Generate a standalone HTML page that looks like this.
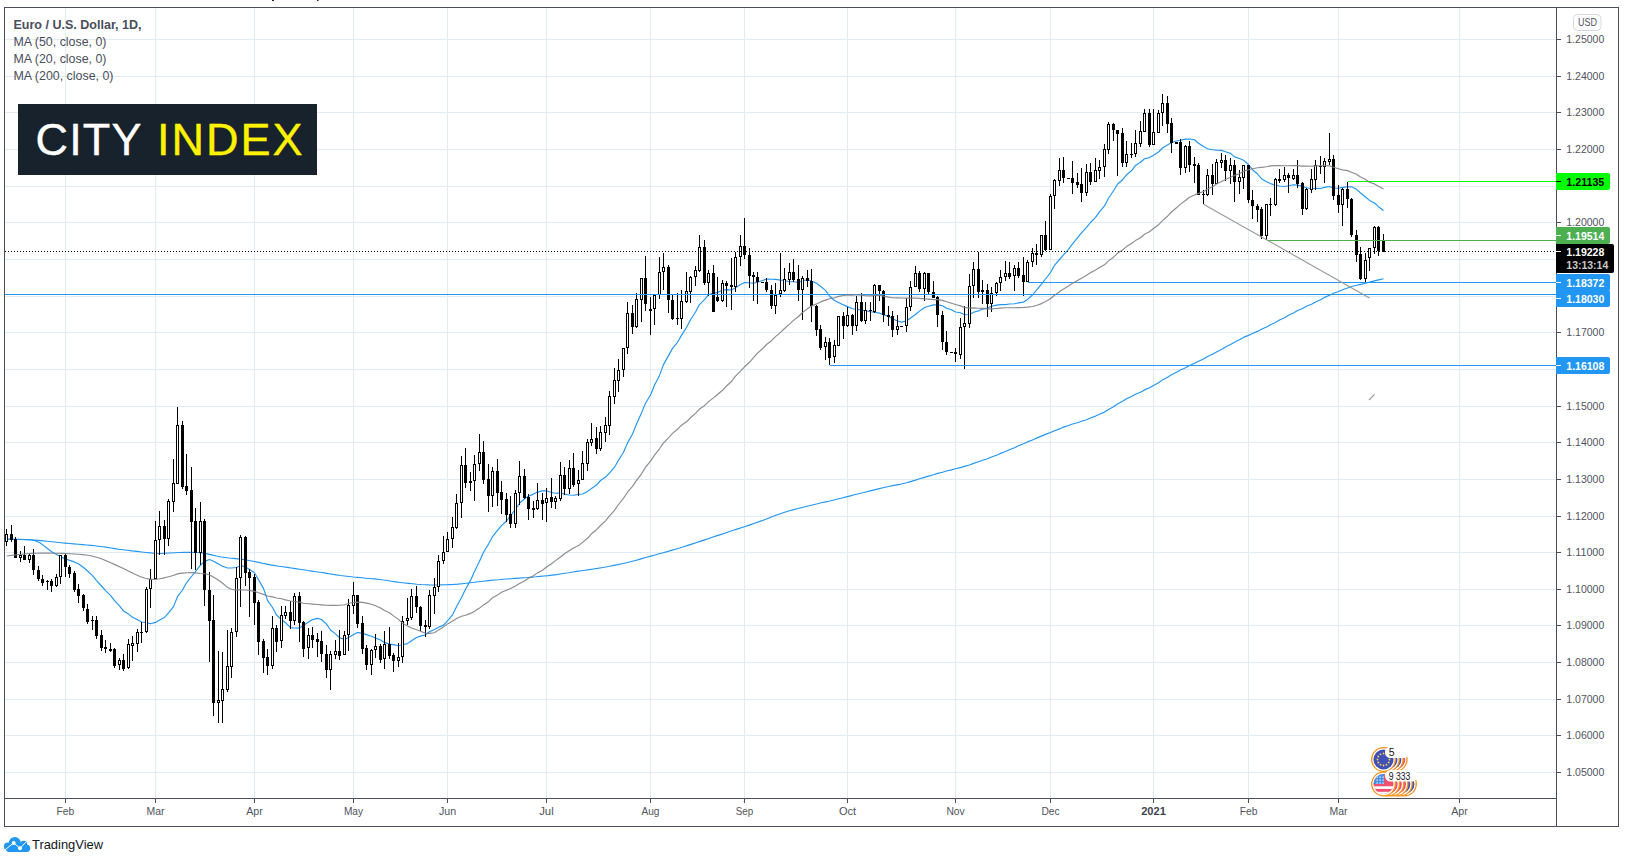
<!DOCTYPE html>
<html lang="en"><head><meta charset="utf-8"><title>Euro / U.S. Dollar, 1D</title>
<style>html,body{margin:0;padding:0;background:#fff}body{width:1625px;height:863px;overflow:hidden}svg{display:block}text{font-family:"Liberation Sans", Arial, sans-serif}</style></head><body>
<svg width="1625" height="863" viewBox="0 0 1625 863">
<rect width="1625" height="863" fill="#fff"/>
<g shape-rendering="crispEdges" fill="#e1ecf2">
<rect x="5" y="39" width="1551" height="1"/>
<rect x="5" y="76" width="1551" height="1"/>
<rect x="5" y="112" width="1551" height="1"/>
<rect x="5" y="149" width="1551" height="1"/>
<rect x="5" y="186" width="1551" height="1"/>
<rect x="5" y="222" width="1551" height="1"/>
<rect x="5" y="259" width="1551" height="1"/>
<rect x="5" y="296" width="1551" height="1"/>
<rect x="5" y="332" width="1551" height="1"/>
<rect x="5" y="369" width="1551" height="1"/>
<rect x="5" y="406" width="1551" height="1"/>
<rect x="5" y="442" width="1551" height="1"/>
<rect x="5" y="479" width="1551" height="1"/>
<rect x="5" y="516" width="1551" height="1"/>
<rect x="5" y="552" width="1551" height="1"/>
<rect x="5" y="589" width="1551" height="1"/>
<rect x="5" y="625" width="1551" height="1"/>
<rect x="5" y="662" width="1551" height="1"/>
<rect x="5" y="699" width="1551" height="1"/>
<rect x="5" y="735" width="1551" height="1"/>
<rect x="5" y="772" width="1551" height="1"/>
<rect x="65" y="8" width="1" height="790"/>
<rect x="155" y="8" width="1" height="790"/>
<rect x="254" y="8" width="1" height="790"/>
<rect x="353" y="8" width="1" height="790"/>
<rect x="447" y="8" width="1" height="790"/>
<rect x="546" y="8" width="1" height="790"/>
<rect x="650" y="8" width="1" height="790"/>
<rect x="744" y="8" width="1" height="790"/>
<rect x="847" y="8" width="1" height="790"/>
<rect x="955" y="8" width="1" height="790"/>
<rect x="1050" y="8" width="1" height="790"/>
<rect x="1153" y="8" width="1" height="790"/>
<rect x="1248" y="8" width="1" height="790"/>
<rect x="1338" y="8" width="1" height="790"/>
<rect x="1459" y="8" width="1" height="790"/>
</g>
<polyline fill="none" stroke="#2196f3" stroke-width="1.15" stroke-opacity="1" stroke-linejoin="round" points="7.6,539.1 10.6,539.2 14.7,539.2 19.6,539.3 25.1,539.5 30.8,539.8 34.6,540.1 38.6,540.4 42.9,540.9 47.4,541.3 51.9,541.8 56.4,542.2 60.9,542.7 65.2,543.1 69.5,543.5 73.8,543.9 78.2,544.3 82.5,544.6 86.7,545.0 90.8,545.4 94.8,545.8 98.5,546.2 103.0,546.8 107.1,547.4 110.9,548.0 114.7,548.6 118.7,549.2 123.0,549.8 127.2,550.3 131.9,550.9 136.8,551.4 141.6,552.0 146.2,552.5 150.4,552.9 153.8,553.2 160.1,553.5 165.0,553.2 169.4,553.0 174.5,552.7 179.8,552.5 184.6,552.3 190.5,552.3 195.8,552.5 200.0,552.7 204.3,553.1 207.5,553.9 211.6,554.9 216.4,556.0 221.5,557.0 225.2,557.5 229.2,558.0 233.4,558.4 237.7,558.9 242.0,559.4 246.2,560.0 250.3,560.7 254.4,561.5 258.5,562.4 262.6,563.3 266.7,564.1 270.8,564.9 274.9,565.6 279.0,566.2 283.1,566.8 287.2,567.4 291.3,568.0 295.4,568.6 299.5,569.2 303.6,569.8 307.7,570.5 311.8,571.1 315.9,571.7 320.0,572.3 324.1,572.9 328.2,573.6 332.3,574.2 336.4,574.9 340.5,575.5 344.6,576.0 348.9,576.5 353.3,577.0 357.8,577.4 362.0,577.8 365.9,578.2 369.2,578.5 374.6,578.9 380.0,579.5 383.3,580.0 387.2,580.5 391.4,581.2 395.9,581.9 400.3,582.5 404.6,583.0 408.7,583.4 412.8,583.8 416.9,584.2 421.0,584.5 425.1,584.7 429.2,584.9 433.3,585.0 437.4,585.0 441.5,584.9 445.6,584.8 449.7,584.6 453.8,584.4 457.9,584.1 462.0,583.7 466.2,583.2 470.3,582.7 474.4,582.2 478.5,581.7 482.6,581.3 486.7,580.9 490.8,580.4 494.8,580.0 498.9,579.7 503.0,579.3 507.1,579.0 511.2,578.7 515.3,578.4 519.5,578.1 523.6,577.8 527.7,577.5 531.8,577.1 535.9,576.8 540.0,576.4 544.1,576.0 548.2,575.6 552.3,575.1 556.4,574.6 560.5,574.0 564.7,573.3 568.8,572.7 572.9,572.0 577.0,571.4 581.1,570.8 585.2,570.2 589.2,569.6 593.3,569.0 597.4,568.4 601.5,567.7 605.6,567.0 609.7,566.2 613.8,565.4 618.0,564.6 622.1,563.7 626.2,562.8 630.3,561.8 634.4,560.7 638.5,559.6 642.6,558.4 646.7,557.2 650.8,556.1 654.9,555.0 659.0,553.8 663.1,552.7 667.2,551.6 671.3,550.4 675.4,549.2 679.5,548.0 683.6,546.7 687.7,545.4 691.8,544.1 695.9,542.7 700.0,541.4 704.1,540.1 708.2,538.7 712.3,537.3 716.4,535.9 720.5,534.6 724.6,533.2 728.9,531.8 733.3,530.3 737.8,528.9 742.0,527.5 745.9,526.2 749.2,525.1 754.6,523.3 760.0,521.4 763.3,520.2 767.2,518.7 771.4,517.0 775.9,515.3 780.3,513.7 784.6,512.3 788.7,511.0 792.8,509.9 796.9,508.8 801.0,507.7 805.1,506.7 809.2,505.7 813.3,504.7 817.4,503.8 821.5,502.8 825.6,501.9 829.7,501.0 833.8,500.0 837.9,499.0 842.0,498.0 846.2,496.9 850.3,495.9 854.4,494.8 858.5,493.8 862.7,492.8 866.9,491.7 871.1,490.6 875.3,489.6 879.3,488.6 883.0,487.7 888.5,486.5 893.8,485.4 898.3,484.6 901.5,484.0 906.5,482.8 910.5,481.6 915.5,480.1 919.5,478.8 924.5,477.4 928.5,476.1 933.5,474.7 937.5,473.4 942.5,472.2 946.5,471.0 951.5,469.9 955.5,468.8 960.5,467.6 964.5,466.4 969.5,465.0 973.5,463.4 978.5,461.8 982.5,460.3 987.5,458.7 991.5,457.0 996.5,455.3 1000.5,453.4 1005.5,451.5 1009.5,449.7 1014.5,447.7 1018.5,445.8 1023.5,443.8 1027.5,441.9 1032.5,440.0 1036.5,438.1 1041.5,436.1 1045.5,434.4 1050.5,432.5 1054.5,430.7 1059.5,428.9 1063.5,427.1 1068.5,425.5 1072.5,424.0 1077.5,422.8 1081.5,421.3 1086.5,419.7 1090.5,418.0 1095.5,416.1 1099.5,414.3 1104.5,412.1 1108.5,409.6 1113.5,406.8 1117.5,404.0 1122.5,401.3 1126.5,398.8 1131.5,396.4 1135.5,394.2 1140.5,392.2 1144.5,389.9 1149.5,387.7 1153.5,385.4 1158.5,382.7 1162.5,379.9 1167.5,377.2 1171.5,374.8 1176.5,372.3 1180.5,370.1 1185.5,367.7 1189.5,365.5 1194.5,363.3 1198.5,361.2 1203.5,358.9 1207.5,356.6 1212.5,354.3 1216.5,351.9 1221.5,349.5 1225.5,347.0 1230.5,344.5 1234.5,342.2 1239.5,339.8 1243.5,337.4 1248.5,335.4 1252.5,333.5 1257.5,331.4 1261.5,329.3 1266.5,327.0 1270.5,324.8 1275.5,322.5 1279.5,320.1 1284.5,317.7 1288.5,315.3 1293.5,312.9 1297.5,310.5 1302.5,308.5 1306.5,306.3 1311.5,304.3 1315.5,302.0 1320.5,299.8 1324.5,297.4 1329.5,295.2 1333.5,293.3 1338.5,291.5 1342.5,289.7 1347.5,288.0 1351.5,286.5 1356.5,285.3 1360.5,284.4 1365.5,283.2 1369.5,282.1 1374.5,280.9 1378.5,279.9 1383.5,278.7"/>
<polyline fill="none" stroke="#2196f3" stroke-width="1.15" stroke-opacity="1" stroke-linejoin="round" points="8.6,539.1 13.6,539.3 20.0,539.5 25.6,539.6 30.8,540.0 35.0,540.7 39.4,542.5 43.2,545.1 47.4,548.5 51.7,551.7 56.1,554.3 60.6,556.7 65.2,558.8 69.7,560.4 74.3,561.9 78.8,564.0 83.9,567.8 88.9,572.3 92.5,575.6 96.5,580.6 101.5,586.0 105.5,590.6 110.5,595.4 114.5,600.7 119.5,605.9 123.5,610.9 128.5,614.1 132.5,617.2 137.5,619.7 141.5,622.0 146.5,622.6 150.5,623.8 155.5,622.4 159.5,620.0 164.5,617.5 168.5,612.8 173.5,606.6 177.5,596.7 182.5,590.0 186.5,582.8 191.5,576.5 195.5,571.7 200.5,565.2 204.5,561.4 209.5,559.5 213.5,561.2 218.5,564.0 222.5,566.3 227.5,568.0 231.5,568.0 236.5,567.5 240.5,565.4 245.5,567.0 249.5,569.5 254.5,572.7 258.5,579.7 263.5,588.4 267.5,600.4 272.5,607.5 276.5,615.0 281.5,619.7 285.5,622.7 290.5,627.6 294.5,628.0 299.5,628.1 303.5,625.4 308.5,622.1 312.5,619.6 317.5,618.4 321.5,619.5 326.5,624.1 330.5,630.0 335.5,633.9 339.5,637.8 344.5,639.4 348.5,637.6 353.5,634.5 357.5,632.4 362.5,633.4 366.5,634.6 371.5,636.3 375.5,638.1 380.5,640.0 384.5,642.4 389.5,644.1 393.5,644.6 398.5,645.7 402.5,644.8 407.5,643.6 411.5,640.7 416.5,637.5 420.5,636.1 425.5,634.8 429.5,631.8 434.5,629.4 438.5,627.2 443.5,625.1 447.5,620.9 452.5,614.8 456.5,606.7 461.5,597.5 465.5,589.3 470.5,580.4 474.5,571.4 479.5,561.2 483.5,552.2 488.5,544.1 492.5,536.7 497.5,530.4 501.5,525.6 506.5,521.0 510.5,515.9 515.5,509.2 519.5,503.3 524.5,498.8 528.5,496.2 533.5,494.1 537.5,492.1 542.5,490.9 546.5,490.7 551.5,492.5 555.5,493.3 560.5,492.9 564.5,494.1 569.5,495.0 573.5,495.2 578.5,494.4 582.5,494.0 587.5,491.5 591.5,488.4 596.5,485.1 600.5,480.5 605.5,477.1 609.5,473.1 614.5,467.2 618.5,460.3 623.5,452.2 627.5,442.9 632.5,434.0 636.5,424.1 641.5,412.9 645.5,403.2 650.5,395.0 654.5,385.2 659.5,375.4 663.5,364.6 668.5,355.6 672.5,348.4 677.5,342.3 681.5,335.4 686.5,327.5 690.5,319.8 695.5,312.0 699.5,304.6 704.5,299.7 708.5,294.8 713.5,293.1 717.5,292.4 722.5,290.3 726.5,289.6 731.5,290.0 735.5,287.7 740.5,284.5 744.5,282.5 749.5,282.7 753.5,283.2 757.5,282.3 762.5,280.5 766.5,279.1 771.5,279.3 775.5,279.4 780.5,280.1 784.5,280.5 789.5,281.8 793.5,281.7 798.5,282.5 802.5,280.8 807.5,279.8 811.5,281.0 816.5,283.2 820.5,286.2 825.5,290.4 829.5,296.0 834.5,300.5 838.5,302.5 843.5,304.9 847.5,306.6 852.5,308.7 856.5,309.3 861.5,310.1 865.5,310.8 870.5,311.9 874.5,312.2 879.5,313.1 883.5,314.9 888.5,316.2 892.5,318.8 897.5,321.0 901.5,322.1 906.5,321.0 910.5,318.0 915.5,314.5 919.5,311.1 924.5,307.5 928.5,306.3 933.5,304.9 937.5,304.9 942.5,305.7 946.5,308.2 951.5,309.8 955.5,312.0 960.5,312.8 964.5,314.7 969.5,314.5 973.5,312.2 978.5,310.9 982.5,309.1 987.5,308.0 991.5,306.3 996.5,305.1 1000.5,304.6 1005.5,304.6 1009.5,304.0 1014.5,303.7 1018.5,302.9 1023.5,302.1 1027.5,299.4 1032.5,295.0 1036.5,290.1 1041.5,284.2 1045.5,279.0 1050.5,272.5 1054.5,265.3 1059.5,259.5 1063.5,254.9 1068.5,249.3 1072.5,243.8 1077.5,237.8 1081.5,232.8 1086.5,227.3 1090.5,222.5 1095.5,217.3 1099.5,211.8 1104.5,205.9 1108.5,198.3 1113.5,190.8 1117.5,184.3 1122.5,179.8 1126.5,174.8 1131.5,170.8 1135.5,165.4 1140.5,162.2 1144.5,158.8 1149.5,157.6 1153.5,155.2 1158.5,152.0 1162.5,148.0 1167.5,144.9 1171.5,142.5 1176.5,141.0 1180.5,140.3 1185.5,139.1 1189.5,139.0 1194.5,139.8 1198.5,143.3 1203.5,146.6 1207.5,148.7 1212.5,149.7 1216.5,150.1 1221.5,150.4 1225.5,151.8 1230.5,153.4 1234.5,156.9 1239.5,158.5 1243.5,160.2 1248.5,164.5 1252.5,169.7 1257.5,174.0 1261.5,178.7 1266.5,181.7 1270.5,183.6 1275.5,185.2 1279.5,186.0 1284.5,186.5 1288.5,185.7 1293.5,184.7 1297.5,185.1 1302.5,186.4 1306.5,187.7 1311.5,188.7 1315.5,188.3 1320.5,188.5 1324.5,187.4 1329.5,186.5 1333.5,188.1 1338.5,188.3 1342.5,187.4 1347.5,186.9 1351.5,186.8 1356.5,189.3 1360.5,193.0 1365.5,197.0 1369.5,200.4 1374.5,203.0 1378.5,206.7 1383.5,210.5"/>
<g shape-rendering="crispEdges" fill="#000">
<rect x="6" y="529" width="1" height="17"/>
<rect x="5" y="534" width="3" height="8"/>
<rect x="6" y="535" width="1" height="6" fill="#fff"/>
<rect x="11" y="525" width="1" height="17"/>
<rect x="10" y="534" width="3" height="6"/>
<rect x="15" y="537" width="1" height="21"/>
<rect x="14" y="539" width="3" height="19"/>
<rect x="20" y="551" width="1" height="11"/>
<rect x="19" y="555" width="3" height="3"/>
<rect x="20" y="556" width="1" height="1" fill="#fff"/>
<rect x="24" y="546" width="1" height="14"/>
<rect x="23" y="555" width="3" height="5"/>
<rect x="29" y="554" width="1" height="9"/>
<rect x="28" y="555" width="3" height="5"/>
<rect x="29" y="556" width="1" height="3" fill="#fff"/>
<rect x="33" y="549" width="1" height="26"/>
<rect x="32" y="555" width="3" height="15"/>
<rect x="38" y="566" width="1" height="15"/>
<rect x="37" y="570" width="3" height="9"/>
<rect x="42" y="575" width="1" height="11"/>
<rect x="41" y="579" width="3" height="4"/>
<rect x="47" y="580" width="1" height="10"/>
<rect x="46" y="581" width="3" height="1"/>
<rect x="51" y="579" width="1" height="13"/>
<rect x="50" y="581" width="3" height="5"/>
<rect x="56" y="574" width="1" height="13"/>
<rect x="55" y="577" width="3" height="9"/>
<rect x="56" y="578" width="1" height="7" fill="#fff"/>
<rect x="60" y="555" width="1" height="29"/>
<rect x="59" y="555" width="3" height="22"/>
<rect x="60" y="556" width="1" height="20" fill="#fff"/>
<rect x="65" y="554" width="1" height="23"/>
<rect x="64" y="555" width="3" height="12"/>
<rect x="69" y="565" width="1" height="13"/>
<rect x="68" y="567" width="3" height="7"/>
<rect x="74" y="571" width="1" height="21"/>
<rect x="73" y="573" width="3" height="17"/>
<rect x="78" y="584" width="1" height="19"/>
<rect x="77" y="589" width="3" height="7"/>
<rect x="83" y="594" width="1" height="17"/>
<rect x="82" y="595" width="3" height="13"/>
<rect x="87" y="604" width="1" height="20"/>
<rect x="86" y="609" width="3" height="13"/>
<rect x="92" y="616" width="1" height="14"/>
<rect x="91" y="620" width="3" height="1"/>
<rect x="96" y="616" width="1" height="23"/>
<rect x="95" y="620" width="3" height="16"/>
<rect x="101" y="630" width="1" height="21"/>
<rect x="100" y="635" width="3" height="13"/>
<rect x="105" y="640" width="1" height="13"/>
<rect x="104" y="647" width="3" height="2"/>
<rect x="110" y="643" width="1" height="9"/>
<rect x="109" y="649" width="3" height="2"/>
<rect x="114" y="648" width="1" height="20"/>
<rect x="113" y="649" width="3" height="17"/>
<rect x="119" y="658" width="1" height="12"/>
<rect x="118" y="660" width="3" height="5"/>
<rect x="119" y="661" width="1" height="3" fill="#fff"/>
<rect x="123" y="654" width="1" height="17"/>
<rect x="122" y="660" width="3" height="9"/>
<rect x="128" y="639" width="1" height="30"/>
<rect x="127" y="644" width="3" height="24"/>
<rect x="128" y="645" width="1" height="22" fill="#fff"/>
<rect x="132" y="636" width="1" height="25"/>
<rect x="131" y="643" width="3" height="3"/>
<rect x="132" y="644" width="1" height="1" fill="#fff"/>
<rect x="137" y="629" width="1" height="23"/>
<rect x="136" y="632" width="3" height="12"/>
<rect x="137" y="633" width="1" height="10" fill="#fff"/>
<rect x="141" y="622" width="1" height="21"/>
<rect x="140" y="632" width="3" height="1"/>
<rect x="146" y="587" width="1" height="46"/>
<rect x="145" y="589" width="3" height="43"/>
<rect x="146" y="590" width="1" height="41" fill="#fff"/>
<rect x="150" y="569" width="1" height="39"/>
<rect x="149" y="579" width="3" height="10"/>
<rect x="150" y="580" width="1" height="8" fill="#fff"/>
<rect x="155" y="521" width="1" height="58"/>
<rect x="154" y="540" width="3" height="39"/>
<rect x="155" y="541" width="1" height="37" fill="#fff"/>
<rect x="159" y="511" width="1" height="44"/>
<rect x="158" y="526" width="3" height="14"/>
<rect x="159" y="527" width="1" height="12" fill="#fff"/>
<rect x="164" y="520" width="1" height="35"/>
<rect x="163" y="526" width="3" height="13"/>
<rect x="168" y="499" width="1" height="47"/>
<rect x="167" y="501" width="3" height="38"/>
<rect x="168" y="502" width="1" height="36" fill="#fff"/>
<rect x="173" y="459" width="1" height="53"/>
<rect x="172" y="483" width="3" height="19"/>
<rect x="173" y="484" width="1" height="17" fill="#fff"/>
<rect x="177" y="407" width="1" height="77"/>
<rect x="176" y="425" width="3" height="59"/>
<rect x="177" y="426" width="1" height="57" fill="#fff"/>
<rect x="182" y="421" width="1" height="68"/>
<rect x="181" y="425" width="3" height="62"/>
<rect x="186" y="454" width="1" height="41"/>
<rect x="185" y="486" width="3" height="5"/>
<rect x="191" y="467" width="1" height="102"/>
<rect x="190" y="490" width="3" height="32"/>
<rect x="195" y="508" width="1" height="62"/>
<rect x="194" y="521" width="3" height="32"/>
<rect x="200" y="502" width="1" height="63"/>
<rect x="199" y="521" width="3" height="32"/>
<rect x="200" y="522" width="1" height="30" fill="#fff"/>
<rect x="204" y="519" width="1" height="87"/>
<rect x="203" y="521" width="3" height="69"/>
<rect x="209" y="572" width="1" height="90"/>
<rect x="208" y="590" width="3" height="31"/>
<rect x="213" y="595" width="1" height="121"/>
<rect x="212" y="620" width="3" height="83"/>
<rect x="218" y="651" width="1" height="72"/>
<rect x="217" y="700" width="3" height="3"/>
<rect x="218" y="701" width="1" height="1" fill="#fff"/>
<rect x="222" y="652" width="1" height="71"/>
<rect x="221" y="689" width="3" height="12"/>
<rect x="222" y="690" width="1" height="10" fill="#fff"/>
<rect x="227" y="630" width="1" height="62"/>
<rect x="226" y="666" width="3" height="24"/>
<rect x="227" y="667" width="1" height="22" fill="#fff"/>
<rect x="231" y="628" width="1" height="50"/>
<rect x="230" y="632" width="3" height="35"/>
<rect x="231" y="633" width="1" height="33" fill="#fff"/>
<rect x="236" y="567" width="1" height="70"/>
<rect x="235" y="578" width="3" height="54"/>
<rect x="236" y="579" width="1" height="52" fill="#fff"/>
<rect x="240" y="535" width="1" height="72"/>
<rect x="239" y="537" width="3" height="41"/>
<rect x="240" y="538" width="1" height="39" fill="#fff"/>
<rect x="245" y="536" width="1" height="50"/>
<rect x="244" y="537" width="3" height="36"/>
<rect x="249" y="569" width="1" height="48"/>
<rect x="248" y="572" width="3" height="6"/>
<rect x="254" y="574" width="1" height="51"/>
<rect x="253" y="577" width="3" height="26"/>
<rect x="258" y="600" width="1" height="55"/>
<rect x="257" y="602" width="3" height="40"/>
<rect x="263" y="639" width="1" height="34"/>
<rect x="262" y="641" width="3" height="17"/>
<rect x="267" y="649" width="1" height="26"/>
<rect x="266" y="657" width="3" height="9"/>
<rect x="272" y="616" width="1" height="53"/>
<rect x="271" y="628" width="3" height="38"/>
<rect x="272" y="629" width="1" height="36" fill="#fff"/>
<rect x="276" y="625" width="1" height="27"/>
<rect x="275" y="628" width="3" height="14"/>
<rect x="281" y="606" width="1" height="42"/>
<rect x="280" y="615" width="3" height="26"/>
<rect x="281" y="616" width="1" height="24" fill="#fff"/>
<rect x="285" y="606" width="1" height="13"/>
<rect x="284" y="612" width="3" height="4"/>
<rect x="285" y="613" width="1" height="2" fill="#fff"/>
<rect x="290" y="601" width="1" height="28"/>
<rect x="289" y="612" width="3" height="9"/>
<rect x="294" y="593" width="1" height="32"/>
<rect x="293" y="596" width="3" height="25"/>
<rect x="294" y="597" width="1" height="23" fill="#fff"/>
<rect x="299" y="592" width="1" height="50"/>
<rect x="298" y="596" width="3" height="27"/>
<rect x="303" y="621" width="1" height="36"/>
<rect x="302" y="622" width="3" height="27"/>
<rect x="308" y="628" width="1" height="31"/>
<rect x="307" y="635" width="3" height="13"/>
<rect x="308" y="636" width="1" height="11" fill="#fff"/>
<rect x="312" y="627" width="1" height="21"/>
<rect x="311" y="635" width="3" height="5"/>
<rect x="317" y="633" width="1" height="24"/>
<rect x="316" y="639" width="3" height="3"/>
<rect x="321" y="631" width="1" height="31"/>
<rect x="320" y="641" width="3" height="13"/>
<rect x="326" y="645" width="1" height="33"/>
<rect x="325" y="654" width="3" height="16"/>
<rect x="330" y="651" width="1" height="39"/>
<rect x="329" y="654" width="3" height="16"/>
<rect x="330" y="655" width="1" height="14" fill="#fff"/>
<rect x="335" y="640" width="1" height="19"/>
<rect x="334" y="651" width="3" height="4"/>
<rect x="335" y="652" width="1" height="2" fill="#fff"/>
<rect x="339" y="630" width="1" height="30"/>
<rect x="338" y="651" width="3" height="5"/>
<rect x="344" y="631" width="1" height="24"/>
<rect x="343" y="635" width="3" height="20"/>
<rect x="344" y="636" width="1" height="18" fill="#fff"/>
<rect x="348" y="599" width="1" height="52"/>
<rect x="347" y="605" width="3" height="30"/>
<rect x="348" y="606" width="1" height="28" fill="#fff"/>
<rect x="353" y="582" width="1" height="32"/>
<rect x="352" y="595" width="3" height="11"/>
<rect x="353" y="596" width="1" height="9" fill="#fff"/>
<rect x="357" y="595" width="1" height="33"/>
<rect x="356" y="595" width="3" height="29"/>
<rect x="362" y="616" width="1" height="38"/>
<rect x="361" y="623" width="3" height="26"/>
<rect x="366" y="645" width="1" height="25"/>
<rect x="365" y="648" width="3" height="17"/>
<rect x="371" y="649" width="1" height="26"/>
<rect x="370" y="650" width="3" height="15"/>
<rect x="371" y="651" width="1" height="13" fill="#fff"/>
<rect x="375" y="634" width="1" height="24"/>
<rect x="374" y="646" width="3" height="4"/>
<rect x="375" y="647" width="1" height="2" fill="#fff"/>
<rect x="380" y="644" width="1" height="19"/>
<rect x="379" y="646" width="3" height="14"/>
<rect x="384" y="631" width="1" height="38"/>
<rect x="383" y="644" width="3" height="15"/>
<rect x="384" y="645" width="1" height="13" fill="#fff"/>
<rect x="389" y="627" width="1" height="32"/>
<rect x="388" y="644" width="3" height="12"/>
<rect x="393" y="653" width="1" height="19"/>
<rect x="392" y="655" width="3" height="6"/>
<rect x="398" y="643" width="1" height="24"/>
<rect x="397" y="657" width="3" height="4"/>
<rect x="398" y="658" width="1" height="2" fill="#fff"/>
<rect x="402" y="616" width="1" height="47"/>
<rect x="401" y="621" width="3" height="36"/>
<rect x="402" y="622" width="1" height="34" fill="#fff"/>
<rect x="407" y="598" width="1" height="27"/>
<rect x="406" y="618" width="3" height="3"/>
<rect x="407" y="619" width="1" height="1" fill="#fff"/>
<rect x="411" y="589" width="1" height="31"/>
<rect x="410" y="596" width="3" height="22"/>
<rect x="411" y="597" width="1" height="20" fill="#fff"/>
<rect x="416" y="586" width="1" height="27"/>
<rect x="415" y="596" width="3" height="11"/>
<rect x="420" y="606" width="1" height="25"/>
<rect x="419" y="607" width="3" height="19"/>
<rect x="425" y="620" width="1" height="17"/>
<rect x="424" y="625" width="3" height="2"/>
<rect x="429" y="590" width="1" height="39"/>
<rect x="428" y="595" width="3" height="32"/>
<rect x="429" y="596" width="1" height="30" fill="#fff"/>
<rect x="434" y="578" width="1" height="36"/>
<rect x="433" y="587" width="3" height="9"/>
<rect x="434" y="588" width="1" height="7" fill="#fff"/>
<rect x="438" y="555" width="1" height="37"/>
<rect x="437" y="561" width="3" height="26"/>
<rect x="438" y="562" width="1" height="24" fill="#fff"/>
<rect x="443" y="536" width="1" height="28"/>
<rect x="442" y="552" width="3" height="9"/>
<rect x="443" y="553" width="1" height="7" fill="#fff"/>
<rect x="447" y="532" width="1" height="20"/>
<rect x="446" y="539" width="3" height="13"/>
<rect x="447" y="540" width="1" height="11" fill="#fff"/>
<rect x="452" y="517" width="1" height="31"/>
<rect x="451" y="527" width="3" height="12"/>
<rect x="452" y="528" width="1" height="10" fill="#fff"/>
<rect x="456" y="494" width="1" height="35"/>
<rect x="455" y="503" width="3" height="25"/>
<rect x="456" y="504" width="1" height="23" fill="#fff"/>
<rect x="461" y="456" width="1" height="62"/>
<rect x="460" y="465" width="3" height="38"/>
<rect x="461" y="466" width="1" height="36" fill="#fff"/>
<rect x="465" y="448" width="1" height="40"/>
<rect x="464" y="465" width="3" height="18"/>
<rect x="470" y="472" width="1" height="19"/>
<rect x="469" y="481" width="3" height="2"/>
<rect x="474" y="455" width="1" height="46"/>
<rect x="473" y="464" width="3" height="17"/>
<rect x="474" y="465" width="1" height="15" fill="#fff"/>
<rect x="479" y="434" width="1" height="37"/>
<rect x="478" y="452" width="3" height="12"/>
<rect x="479" y="453" width="1" height="10" fill="#fff"/>
<rect x="483" y="441" width="1" height="43"/>
<rect x="482" y="452" width="3" height="28"/>
<rect x="488" y="464" width="1" height="48"/>
<rect x="487" y="479" width="3" height="17"/>
<rect x="492" y="467" width="1" height="40"/>
<rect x="491" y="471" width="3" height="25"/>
<rect x="492" y="472" width="1" height="23" fill="#fff"/>
<rect x="497" y="459" width="1" height="47"/>
<rect x="496" y="471" width="3" height="22"/>
<rect x="501" y="481" width="1" height="33"/>
<rect x="500" y="492" width="3" height="8"/>
<rect x="506" y="493" width="1" height="29"/>
<rect x="505" y="499" width="3" height="16"/>
<rect x="510" y="496" width="1" height="32"/>
<rect x="509" y="514" width="3" height="10"/>
<rect x="515" y="490" width="1" height="38"/>
<rect x="514" y="493" width="3" height="31"/>
<rect x="515" y="494" width="1" height="29" fill="#fff"/>
<rect x="519" y="461" width="1" height="44"/>
<rect x="518" y="476" width="3" height="17"/>
<rect x="519" y="477" width="1" height="15" fill="#fff"/>
<rect x="524" y="469" width="1" height="30"/>
<rect x="523" y="476" width="3" height="22"/>
<rect x="528" y="494" width="1" height="26"/>
<rect x="527" y="497" width="3" height="12"/>
<rect x="533" y="501" width="1" height="17"/>
<rect x="532" y="508" width="3" height="2"/>
<rect x="537" y="483" width="1" height="27"/>
<rect x="536" y="500" width="3" height="9"/>
<rect x="537" y="501" width="1" height="7" fill="#fff"/>
<rect x="542" y="493" width="1" height="27"/>
<rect x="541" y="500" width="3" height="4"/>
<rect x="546" y="488" width="1" height="34"/>
<rect x="545" y="498" width="3" height="5"/>
<rect x="546" y="499" width="1" height="3" fill="#fff"/>
<rect x="551" y="478" width="1" height="30"/>
<rect x="550" y="497" width="3" height="5"/>
<rect x="555" y="496" width="1" height="13"/>
<rect x="554" y="498" width="3" height="4"/>
<rect x="555" y="499" width="1" height="2" fill="#fff"/>
<rect x="560" y="462" width="1" height="39"/>
<rect x="559" y="475" width="3" height="24"/>
<rect x="560" y="476" width="1" height="22" fill="#fff"/>
<rect x="564" y="467" width="1" height="28"/>
<rect x="563" y="475" width="3" height="14"/>
<rect x="569" y="460" width="1" height="34"/>
<rect x="568" y="468" width="3" height="21"/>
<rect x="569" y="469" width="1" height="19" fill="#fff"/>
<rect x="573" y="453" width="1" height="34"/>
<rect x="572" y="468" width="3" height="17"/>
<rect x="578" y="470" width="1" height="26"/>
<rect x="577" y="480" width="3" height="4"/>
<rect x="578" y="481" width="1" height="2" fill="#fff"/>
<rect x="582" y="451" width="1" height="29"/>
<rect x="581" y="463" width="3" height="17"/>
<rect x="582" y="464" width="1" height="15" fill="#fff"/>
<rect x="587" y="439" width="1" height="32"/>
<rect x="586" y="442" width="3" height="22"/>
<rect x="587" y="443" width="1" height="20" fill="#fff"/>
<rect x="591" y="423" width="1" height="23"/>
<rect x="590" y="439" width="3" height="4"/>
<rect x="591" y="440" width="1" height="2" fill="#fff"/>
<rect x="596" y="427" width="1" height="27"/>
<rect x="595" y="438" width="3" height="11"/>
<rect x="600" y="426" width="1" height="25"/>
<rect x="599" y="432" width="3" height="17"/>
<rect x="600" y="433" width="1" height="15" fill="#fff"/>
<rect x="605" y="417" width="1" height="25"/>
<rect x="604" y="425" width="3" height="8"/>
<rect x="605" y="426" width="1" height="6" fill="#fff"/>
<rect x="609" y="391" width="1" height="44"/>
<rect x="608" y="396" width="3" height="30"/>
<rect x="609" y="397" width="1" height="28" fill="#fff"/>
<rect x="614" y="368" width="1" height="36"/>
<rect x="613" y="380" width="3" height="17"/>
<rect x="614" y="381" width="1" height="15" fill="#fff"/>
<rect x="618" y="359" width="1" height="33"/>
<rect x="617" y="370" width="3" height="11"/>
<rect x="618" y="371" width="1" height="9" fill="#fff"/>
<rect x="623" y="348" width="1" height="29"/>
<rect x="622" y="348" width="3" height="22"/>
<rect x="623" y="349" width="1" height="20" fill="#fff"/>
<rect x="627" y="302" width="1" height="52"/>
<rect x="626" y="313" width="3" height="35"/>
<rect x="627" y="314" width="1" height="33" fill="#fff"/>
<rect x="632" y="305" width="1" height="29"/>
<rect x="631" y="313" width="3" height="14"/>
<rect x="636" y="293" width="1" height="35"/>
<rect x="635" y="299" width="3" height="28"/>
<rect x="636" y="300" width="1" height="26" fill="#fff"/>
<rect x="641" y="278" width="1" height="44"/>
<rect x="640" y="278" width="3" height="22"/>
<rect x="641" y="279" width="1" height="20" fill="#fff"/>
<rect x="645" y="256" width="1" height="55"/>
<rect x="644" y="278" width="3" height="26"/>
<rect x="650" y="297" width="1" height="38"/>
<rect x="649" y="309" width="3" height="2"/>
<rect x="654" y="295" width="1" height="30"/>
<rect x="653" y="295" width="3" height="14"/>
<rect x="654" y="296" width="1" height="12" fill="#fff"/>
<rect x="659" y="257" width="1" height="42"/>
<rect x="658" y="272" width="3" height="23"/>
<rect x="659" y="273" width="1" height="21" fill="#fff"/>
<rect x="663" y="253" width="1" height="37"/>
<rect x="662" y="267" width="3" height="5"/>
<rect x="663" y="268" width="1" height="3" fill="#fff"/>
<rect x="668" y="265" width="1" height="48"/>
<rect x="667" y="267" width="3" height="33"/>
<rect x="672" y="295" width="1" height="25"/>
<rect x="671" y="300" width="3" height="19"/>
<rect x="677" y="293" width="1" height="32"/>
<rect x="676" y="318" width="3" height="1"/>
<rect x="681" y="290" width="1" height="39"/>
<rect x="680" y="301" width="3" height="18"/>
<rect x="681" y="302" width="1" height="16" fill="#fff"/>
<rect x="686" y="272" width="1" height="31"/>
<rect x="685" y="291" width="3" height="11"/>
<rect x="686" y="292" width="1" height="9" fill="#fff"/>
<rect x="690" y="276" width="1" height="27"/>
<rect x="689" y="277" width="3" height="15"/>
<rect x="690" y="278" width="1" height="13" fill="#fff"/>
<rect x="695" y="266" width="1" height="20"/>
<rect x="694" y="270" width="3" height="7"/>
<rect x="695" y="271" width="1" height="5" fill="#fff"/>
<rect x="699" y="235" width="1" height="37"/>
<rect x="698" y="247" width="3" height="24"/>
<rect x="699" y="248" width="1" height="22" fill="#fff"/>
<rect x="704" y="240" width="1" height="45"/>
<rect x="703" y="247" width="3" height="36"/>
<rect x="708" y="270" width="1" height="26"/>
<rect x="707" y="273" width="3" height="10"/>
<rect x="708" y="274" width="1" height="8" fill="#fff"/>
<rect x="713" y="265" width="1" height="47"/>
<rect x="712" y="273" width="3" height="39"/>
<rect x="717" y="277" width="1" height="25"/>
<rect x="716" y="297" width="3" height="4"/>
<rect x="722" y="280" width="1" height="22"/>
<rect x="721" y="283" width="3" height="18"/>
<rect x="722" y="284" width="1" height="16" fill="#fff"/>
<rect x="726" y="281" width="1" height="26"/>
<rect x="725" y="283" width="3" height="3"/>
<rect x="731" y="258" width="1" height="52"/>
<rect x="730" y="285" width="3" height="2"/>
<rect x="735" y="252" width="1" height="40"/>
<rect x="734" y="257" width="3" height="30"/>
<rect x="735" y="258" width="1" height="28" fill="#fff"/>
<rect x="740" y="235" width="1" height="31"/>
<rect x="739" y="246" width="3" height="11"/>
<rect x="740" y="247" width="1" height="9" fill="#fff"/>
<rect x="744" y="218" width="1" height="41"/>
<rect x="743" y="246" width="3" height="9"/>
<rect x="749" y="248" width="1" height="40"/>
<rect x="748" y="255" width="3" height="21"/>
<rect x="753" y="272" width="1" height="29"/>
<rect x="752" y="275" width="3" height="2"/>
<rect x="757" y="272" width="1" height="32"/>
<rect x="756" y="277" width="3" height="5"/>
<rect x="762" y="282" width="1" height="1"/>
<rect x="761" y="282" width="3" height="1"/>
<rect x="766" y="278" width="1" height="14"/>
<rect x="765" y="282" width="3" height="8"/>
<rect x="771" y="285" width="1" height="24"/>
<rect x="770" y="290" width="3" height="16"/>
<rect x="775" y="283" width="1" height="31"/>
<rect x="774" y="295" width="3" height="11"/>
<rect x="775" y="296" width="1" height="9" fill="#fff"/>
<rect x="780" y="253" width="1" height="44"/>
<rect x="779" y="290" width="3" height="4"/>
<rect x="780" y="291" width="1" height="2" fill="#fff"/>
<rect x="784" y="268" width="1" height="24"/>
<rect x="783" y="279" width="3" height="12"/>
<rect x="784" y="280" width="1" height="10" fill="#fff"/>
<rect x="789" y="263" width="1" height="22"/>
<rect x="788" y="272" width="3" height="8"/>
<rect x="789" y="273" width="1" height="6" fill="#fff"/>
<rect x="793" y="259" width="1" height="23"/>
<rect x="792" y="272" width="3" height="8"/>
<rect x="798" y="265" width="1" height="36"/>
<rect x="797" y="279" width="3" height="11"/>
<rect x="802" y="276" width="1" height="44"/>
<rect x="801" y="278" width="3" height="12"/>
<rect x="802" y="279" width="1" height="10" fill="#fff"/>
<rect x="807" y="270" width="1" height="17"/>
<rect x="806" y="278" width="3" height="3"/>
<rect x="811" y="269" width="1" height="53"/>
<rect x="810" y="281" width="3" height="25"/>
<rect x="816" y="305" width="1" height="31"/>
<rect x="815" y="306" width="3" height="24"/>
<rect x="820" y="325" width="1" height="25"/>
<rect x="819" y="329" width="3" height="19"/>
<rect x="825" y="337" width="1" height="23"/>
<rect x="824" y="342" width="3" height="5"/>
<rect x="825" y="343" width="1" height="3" fill="#fff"/>
<rect x="829" y="338" width="1" height="27"/>
<rect x="828" y="342" width="3" height="16"/>
<rect x="834" y="340" width="1" height="23"/>
<rect x="833" y="345" width="3" height="12"/>
<rect x="834" y="346" width="1" height="10" fill="#fff"/>
<rect x="838" y="316" width="1" height="30"/>
<rect x="837" y="316" width="3" height="30"/>
<rect x="838" y="317" width="1" height="28" fill="#fff"/>
<rect x="843" y="312" width="1" height="27"/>
<rect x="842" y="316" width="3" height="10"/>
<rect x="847" y="307" width="1" height="20"/>
<rect x="846" y="315" width="3" height="11"/>
<rect x="847" y="316" width="1" height="9" fill="#fff"/>
<rect x="852" y="314" width="1" height="21"/>
<rect x="851" y="315" width="3" height="11"/>
<rect x="856" y="296" width="1" height="35"/>
<rect x="855" y="302" width="3" height="24"/>
<rect x="856" y="303" width="1" height="22" fill="#fff"/>
<rect x="861" y="293" width="1" height="29"/>
<rect x="860" y="302" width="3" height="19"/>
<rect x="865" y="302" width="1" height="22"/>
<rect x="864" y="310" width="3" height="11"/>
<rect x="865" y="311" width="1" height="9" fill="#fff"/>
<rect x="870" y="302" width="1" height="19"/>
<rect x="869" y="310" width="3" height="1"/>
<rect x="874" y="284" width="1" height="29"/>
<rect x="873" y="285" width="3" height="27"/>
<rect x="874" y="286" width="1" height="25" fill="#fff"/>
<rect x="879" y="285" width="1" height="16"/>
<rect x="878" y="285" width="3" height="6"/>
<rect x="883" y="290" width="1" height="32"/>
<rect x="882" y="291" width="3" height="24"/>
<rect x="888" y="306" width="1" height="20"/>
<rect x="887" y="315" width="3" height="2"/>
<rect x="892" y="311" width="1" height="26"/>
<rect x="891" y="316" width="3" height="14"/>
<rect x="897" y="315" width="1" height="20"/>
<rect x="896" y="326" width="3" height="4"/>
<rect x="897" y="327" width="1" height="2" fill="#fff"/>
<rect x="901" y="326" width="1" height="1"/>
<rect x="900" y="326" width="3" height="1"/>
<rect x="906" y="298" width="1" height="34"/>
<rect x="905" y="307" width="3" height="19"/>
<rect x="906" y="308" width="1" height="17" fill="#fff"/>
<rect x="910" y="281" width="1" height="30"/>
<rect x="909" y="287" width="3" height="20"/>
<rect x="910" y="288" width="1" height="18" fill="#fff"/>
<rect x="915" y="266" width="1" height="21"/>
<rect x="914" y="273" width="3" height="14"/>
<rect x="915" y="274" width="1" height="12" fill="#fff"/>
<rect x="919" y="271" width="1" height="21"/>
<rect x="918" y="273" width="3" height="16"/>
<rect x="924" y="272" width="1" height="29"/>
<rect x="923" y="273" width="3" height="16"/>
<rect x="924" y="274" width="1" height="14" fill="#fff"/>
<rect x="928" y="273" width="1" height="21"/>
<rect x="927" y="273" width="3" height="19"/>
<rect x="933" y="281" width="1" height="17"/>
<rect x="932" y="292" width="3" height="6"/>
<rect x="937" y="296" width="1" height="31"/>
<rect x="936" y="297" width="3" height="18"/>
<rect x="942" y="311" width="1" height="39"/>
<rect x="941" y="315" width="3" height="27"/>
<rect x="946" y="331" width="1" height="24"/>
<rect x="945" y="342" width="3" height="10"/>
<rect x="951" y="352" width="1" height="1"/>
<rect x="950" y="352" width="3" height="1"/>
<rect x="955" y="348" width="1" height="14"/>
<rect x="954" y="352" width="3" height="2"/>
<rect x="960" y="318" width="1" height="41"/>
<rect x="959" y="327" width="3" height="28"/>
<rect x="960" y="328" width="1" height="26" fill="#fff"/>
<rect x="964" y="306" width="1" height="63"/>
<rect x="963" y="323" width="3" height="4"/>
<rect x="964" y="324" width="1" height="2" fill="#fff"/>
<rect x="969" y="274" width="1" height="54"/>
<rect x="968" y="286" width="3" height="38"/>
<rect x="969" y="287" width="1" height="36" fill="#fff"/>
<rect x="973" y="262" width="1" height="36"/>
<rect x="972" y="269" width="3" height="17"/>
<rect x="973" y="270" width="1" height="15" fill="#fff"/>
<rect x="978" y="252" width="1" height="46"/>
<rect x="977" y="269" width="3" height="23"/>
<rect x="982" y="280" width="1" height="24"/>
<rect x="981" y="290" width="3" height="2"/>
<rect x="987" y="284" width="1" height="33"/>
<rect x="986" y="290" width="3" height="14"/>
<rect x="991" y="287" width="1" height="25"/>
<rect x="990" y="293" width="3" height="11"/>
<rect x="991" y="294" width="1" height="9" fill="#fff"/>
<rect x="996" y="282" width="1" height="14"/>
<rect x="995" y="283" width="3" height="10"/>
<rect x="996" y="284" width="1" height="8" fill="#fff"/>
<rect x="1000" y="270" width="1" height="21"/>
<rect x="999" y="277" width="3" height="6"/>
<rect x="1000" y="278" width="1" height="4" fill="#fff"/>
<rect x="1005" y="261" width="1" height="20"/>
<rect x="1004" y="273" width="3" height="4"/>
<rect x="1005" y="274" width="1" height="2" fill="#fff"/>
<rect x="1009" y="262" width="1" height="17"/>
<rect x="1008" y="273" width="3" height="4"/>
<rect x="1014" y="265" width="1" height="26"/>
<rect x="1013" y="268" width="3" height="8"/>
<rect x="1014" y="269" width="1" height="6" fill="#fff"/>
<rect x="1018" y="262" width="1" height="16"/>
<rect x="1017" y="268" width="3" height="8"/>
<rect x="1023" y="257" width="1" height="39"/>
<rect x="1022" y="275" width="3" height="7"/>
<rect x="1027" y="260" width="1" height="22"/>
<rect x="1026" y="262" width="3" height="20"/>
<rect x="1027" y="263" width="1" height="18" fill="#fff"/>
<rect x="1032" y="248" width="1" height="19"/>
<rect x="1031" y="253" width="3" height="9"/>
<rect x="1032" y="254" width="1" height="7" fill="#fff"/>
<rect x="1036" y="244" width="1" height="21"/>
<rect x="1035" y="253" width="3" height="2"/>
<rect x="1041" y="235" width="1" height="22"/>
<rect x="1040" y="235" width="3" height="20"/>
<rect x="1041" y="236" width="1" height="18" fill="#fff"/>
<rect x="1045" y="221" width="1" height="30"/>
<rect x="1044" y="235" width="3" height="15"/>
<rect x="1050" y="194" width="1" height="56"/>
<rect x="1049" y="196" width="3" height="54"/>
<rect x="1050" y="197" width="1" height="52" fill="#fff"/>
<rect x="1054" y="179" width="1" height="30"/>
<rect x="1053" y="180" width="3" height="16"/>
<rect x="1054" y="181" width="1" height="14" fill="#fff"/>
<rect x="1059" y="158" width="1" height="28"/>
<rect x="1058" y="170" width="3" height="11"/>
<rect x="1059" y="171" width="1" height="9" fill="#fff"/>
<rect x="1063" y="157" width="1" height="26"/>
<rect x="1062" y="170" width="3" height="8"/>
<rect x="1068" y="178" width="1" height="1"/>
<rect x="1067" y="178" width="3" height="1"/>
<rect x="1072" y="161" width="1" height="33"/>
<rect x="1071" y="178" width="3" height="5"/>
<rect x="1077" y="173" width="1" height="15"/>
<rect x="1076" y="182" width="3" height="3"/>
<rect x="1081" y="168" width="1" height="34"/>
<rect x="1080" y="184" width="3" height="9"/>
<rect x="1086" y="164" width="1" height="32"/>
<rect x="1085" y="172" width="3" height="21"/>
<rect x="1086" y="173" width="1" height="19" fill="#fff"/>
<rect x="1090" y="163" width="1" height="22"/>
<rect x="1089" y="172" width="3" height="10"/>
<rect x="1095" y="158" width="1" height="24"/>
<rect x="1094" y="170" width="3" height="12"/>
<rect x="1095" y="171" width="1" height="10" fill="#fff"/>
<rect x="1099" y="160" width="1" height="19"/>
<rect x="1098" y="167" width="3" height="4"/>
<rect x="1099" y="168" width="1" height="2" fill="#fff"/>
<rect x="1104" y="144" width="1" height="33"/>
<rect x="1103" y="149" width="3" height="18"/>
<rect x="1104" y="150" width="1" height="16" fill="#fff"/>
<rect x="1108" y="122" width="1" height="32"/>
<rect x="1107" y="124" width="3" height="26"/>
<rect x="1108" y="125" width="1" height="24" fill="#fff"/>
<rect x="1113" y="123" width="1" height="18"/>
<rect x="1112" y="124" width="3" height="6"/>
<rect x="1117" y="130" width="1" height="46"/>
<rect x="1116" y="130" width="3" height="4"/>
<rect x="1122" y="128" width="1" height="39"/>
<rect x="1121" y="133" width="3" height="30"/>
<rect x="1126" y="141" width="1" height="26"/>
<rect x="1125" y="154" width="3" height="9"/>
<rect x="1126" y="155" width="1" height="7" fill="#fff"/>
<rect x="1131" y="143" width="1" height="15"/>
<rect x="1130" y="154" width="3" height="1"/>
<rect x="1135" y="130" width="1" height="27"/>
<rect x="1134" y="143" width="3" height="11"/>
<rect x="1135" y="144" width="1" height="9" fill="#fff"/>
<rect x="1140" y="121" width="1" height="26"/>
<rect x="1139" y="131" width="3" height="13"/>
<rect x="1140" y="132" width="1" height="11" fill="#fff"/>
<rect x="1144" y="109" width="1" height="23"/>
<rect x="1143" y="113" width="3" height="19"/>
<rect x="1144" y="114" width="1" height="17" fill="#fff"/>
<rect x="1149" y="109" width="1" height="38"/>
<rect x="1148" y="113" width="3" height="32"/>
<rect x="1153" y="109" width="1" height="36"/>
<rect x="1152" y="132" width="3" height="13"/>
<rect x="1153" y="133" width="1" height="11" fill="#fff"/>
<rect x="1158" y="110" width="1" height="23"/>
<rect x="1157" y="113" width="3" height="20"/>
<rect x="1158" y="114" width="1" height="18" fill="#fff"/>
<rect x="1162" y="94" width="1" height="32"/>
<rect x="1161" y="103" width="3" height="10"/>
<rect x="1162" y="104" width="1" height="8" fill="#fff"/>
<rect x="1167" y="96" width="1" height="37"/>
<rect x="1166" y="103" width="3" height="21"/>
<rect x="1171" y="118" width="1" height="35"/>
<rect x="1170" y="123" width="3" height="20"/>
<rect x="1176" y="142" width="1" height="2"/>
<rect x="1175" y="142" width="3" height="2"/>
<rect x="1180" y="139" width="1" height="36"/>
<rect x="1179" y="142" width="3" height="26"/>
<rect x="1185" y="145" width="1" height="28"/>
<rect x="1184" y="146" width="3" height="22"/>
<rect x="1185" y="147" width="1" height="20" fill="#fff"/>
<rect x="1189" y="141" width="1" height="31"/>
<rect x="1188" y="146" width="3" height="19"/>
<rect x="1194" y="157" width="1" height="26"/>
<rect x="1193" y="164" width="3" height="2"/>
<rect x="1198" y="163" width="1" height="32"/>
<rect x="1197" y="165" width="3" height="30"/>
<rect x="1203" y="190" width="1" height="14"/>
<rect x="1202" y="194" width="3" height="1"/>
<rect x="1207" y="169" width="1" height="27"/>
<rect x="1206" y="175" width="3" height="20"/>
<rect x="1207" y="176" width="1" height="18" fill="#fff"/>
<rect x="1212" y="164" width="1" height="31"/>
<rect x="1211" y="175" width="3" height="9"/>
<rect x="1216" y="159" width="1" height="25"/>
<rect x="1215" y="162" width="3" height="22"/>
<rect x="1216" y="163" width="1" height="20" fill="#fff"/>
<rect x="1221" y="153" width="1" height="15"/>
<rect x="1220" y="160" width="3" height="3"/>
<rect x="1221" y="161" width="1" height="1" fill="#fff"/>
<rect x="1225" y="155" width="1" height="26"/>
<rect x="1224" y="160" width="3" height="11"/>
<rect x="1230" y="158" width="1" height="26"/>
<rect x="1229" y="165" width="3" height="6"/>
<rect x="1230" y="166" width="1" height="4" fill="#fff"/>
<rect x="1234" y="160" width="1" height="42"/>
<rect x="1233" y="165" width="3" height="17"/>
<rect x="1239" y="170" width="1" height="24"/>
<rect x="1238" y="177" width="3" height="5"/>
<rect x="1239" y="178" width="1" height="3" fill="#fff"/>
<rect x="1243" y="165" width="1" height="24"/>
<rect x="1242" y="165" width="3" height="13"/>
<rect x="1243" y="166" width="1" height="11" fill="#fff"/>
<rect x="1248" y="165" width="1" height="38"/>
<rect x="1247" y="165" width="3" height="35"/>
<rect x="1252" y="190" width="1" height="29"/>
<rect x="1251" y="200" width="3" height="6"/>
<rect x="1257" y="204" width="1" height="18"/>
<rect x="1256" y="206" width="3" height="4"/>
<rect x="1261" y="207" width="1" height="32"/>
<rect x="1260" y="209" width="3" height="27"/>
<rect x="1266" y="204" width="1" height="36"/>
<rect x="1265" y="204" width="3" height="32"/>
<rect x="1266" y="205" width="1" height="30" fill="#fff"/>
<rect x="1270" y="198" width="1" height="18"/>
<rect x="1269" y="204" width="3" height="1"/>
<rect x="1275" y="178" width="1" height="28"/>
<rect x="1274" y="179" width="3" height="26"/>
<rect x="1275" y="180" width="1" height="24" fill="#fff"/>
<rect x="1279" y="169" width="1" height="14"/>
<rect x="1278" y="179" width="3" height="2"/>
<rect x="1284" y="167" width="1" height="15"/>
<rect x="1283" y="175" width="3" height="5"/>
<rect x="1284" y="176" width="1" height="3" fill="#fff"/>
<rect x="1288" y="173" width="1" height="20"/>
<rect x="1287" y="175" width="3" height="3"/>
<rect x="1293" y="169" width="1" height="11"/>
<rect x="1292" y="175" width="3" height="4"/>
<rect x="1293" y="176" width="1" height="2" fill="#fff"/>
<rect x="1297" y="160" width="1" height="28"/>
<rect x="1296" y="175" width="3" height="9"/>
<rect x="1302" y="182" width="1" height="33"/>
<rect x="1301" y="183" width="3" height="26"/>
<rect x="1306" y="188" width="1" height="22"/>
<rect x="1305" y="189" width="3" height="20"/>
<rect x="1306" y="190" width="1" height="18" fill="#fff"/>
<rect x="1311" y="169" width="1" height="24"/>
<rect x="1310" y="179" width="3" height="11"/>
<rect x="1311" y="180" width="1" height="9" fill="#fff"/>
<rect x="1315" y="160" width="1" height="30"/>
<rect x="1314" y="165" width="3" height="15"/>
<rect x="1315" y="166" width="1" height="13" fill="#fff"/>
<rect x="1320" y="156" width="1" height="18"/>
<rect x="1319" y="166" width="3" height="1"/>
<rect x="1324" y="158" width="1" height="25"/>
<rect x="1323" y="161" width="3" height="6"/>
<rect x="1324" y="162" width="1" height="4" fill="#fff"/>
<rect x="1329" y="133" width="1" height="32"/>
<rect x="1328" y="159" width="3" height="3"/>
<rect x="1329" y="160" width="1" height="1" fill="#fff"/>
<rect x="1333" y="155" width="1" height="45"/>
<rect x="1332" y="159" width="3" height="37"/>
<rect x="1338" y="185" width="1" height="28"/>
<rect x="1337" y="195" width="3" height="10"/>
<rect x="1342" y="188" width="1" height="38"/>
<rect x="1341" y="189" width="3" height="16"/>
<rect x="1342" y="190" width="1" height="14" fill="#fff"/>
<rect x="1347" y="182" width="1" height="26"/>
<rect x="1346" y="189" width="3" height="10"/>
<rect x="1351" y="198" width="1" height="39"/>
<rect x="1350" y="199" width="3" height="36"/>
<rect x="1356" y="230" width="1" height="32"/>
<rect x="1355" y="235" width="3" height="20"/>
<rect x="1360" y="247" width="1" height="33"/>
<rect x="1359" y="254" width="3" height="25"/>
<rect x="1365" y="253" width="1" height="29"/>
<rect x="1364" y="260" width="3" height="19"/>
<rect x="1365" y="261" width="1" height="17" fill="#fff"/>
<rect x="1369" y="248" width="1" height="23"/>
<rect x="1368" y="248" width="3" height="10"/>
<rect x="1369" y="249" width="1" height="8" fill="#fff"/>
<rect x="1374" y="226" width="1" height="28"/>
<rect x="1373" y="227" width="3" height="21"/>
<rect x="1374" y="228" width="1" height="19" fill="#fff"/>
<rect x="1378" y="226" width="1" height="30"/>
<rect x="1377" y="227" width="3" height="24"/>
<rect x="1383" y="234" width="1" height="18"/>
<rect x="1382" y="240" width="3" height="12"/>
</g>
<g shape-rendering="crispEdges">
<rect x="5" y="294" width="1551" height="1" fill="#2196f3"/>
<rect x="1028" y="282" width="528" height="1" fill="#2196f3"/>
<rect x="830" y="365" width="726" height="1" fill="#2196f3"/>
<rect x="1267" y="240" width="289" height="1" fill="#4caf50"/>
<rect x="1348" y="181" width="208" height="1" fill="#00ff00"/>
</g>
<line x1="5" y1="251.5" x2="1556" y2="251.5" stroke="#000" stroke-width="1" stroke-dasharray="1 2" shape-rendering="crispEdges"/>
<polyline fill="none" stroke="#7d7d85" stroke-width="1.15" stroke-opacity="0.9" stroke-linejoin="round" points="6.8,556.0 10.1,555.5 16.0,554.8 19.3,554.5 23.2,554.1 27.4,553.7 32.1,553.4 36.9,553.2 40.6,553.1 44.7,553.1 48.9,553.1 53.2,553.2 57.4,553.3 61.5,553.4 65.2,553.5 70.0,553.7 74.5,554.0 78.8,554.2 82.7,554.6 86.2,555.0 90.9,555.8 94.7,556.7 98.5,557.8 102.6,559.3 106.7,561.0 110.8,562.8 114.9,564.6 118.9,566.4 123.0,568.3 127.2,570.4 131.5,572.6 135.4,574.5 140.7,576.7 145.2,578.2 151.4,579.4 155.3,579.4 160.0,578.8 164.1,577.9 168.5,576.8 172.3,575.7 178.5,573.6 182.3,573.1 186.7,572.8 190.8,572.6 195.6,572.9 200.0,573.5 204.4,573.7 209.2,574.8 213.3,576.9 217.8,579.7 221.5,582.2 227.5,587.4 231.5,589.3 236.5,590.1 240.5,589.7 245.5,590.0 249.5,590.4 254.5,591.4 258.5,592.8 263.5,594.4 267.5,596.0 272.5,596.9 276.5,598.0 281.5,598.8 285.5,599.9 290.5,601.0 294.5,601.5 299.5,602.1 303.5,603.2 308.5,603.7 312.5,604.1 317.5,604.5 321.5,604.9 326.5,605.3 330.5,605.4 335.5,605.4 339.5,605.2 344.5,604.7 348.5,603.5 353.5,602.5 357.5,602.1 362.5,602.4 366.5,603.1 371.5,604.3 375.5,605.7 380.5,608.0 384.5,610.4 389.5,612.7 393.5,615.9 398.5,619.4 402.5,623.3 407.5,625.9 411.5,628.0 416.5,629.7 420.5,631.2 425.5,633.3 429.5,633.4 434.5,632.7 438.5,629.9 443.5,626.9 447.5,623.9 452.5,621.2 456.5,618.6 461.5,616.3 465.5,615.2 470.5,613.4 474.5,611.2 479.5,608.1 483.5,604.9 488.5,601.7 492.5,597.8 497.5,595.1 501.5,592.2 506.5,590.2 510.5,588.5 515.5,585.9 519.5,583.5 524.5,581.0 528.5,578.2 533.5,575.7 537.5,572.9 542.5,570.2 546.5,567.0 551.5,563.7 555.5,560.6 560.5,557.0 564.5,553.7 569.5,550.4 573.5,548.0 578.5,545.6 582.5,542.4 587.5,538.3 591.5,533.8 596.5,529.7 600.5,525.5 605.5,520.8 609.5,515.8 614.5,510.3 618.5,504.5 623.5,498.3 627.5,492.2 632.5,486.4 636.5,480.4 641.5,473.8 645.5,467.4 650.5,461.1 654.5,455.1 659.5,448.8 663.5,442.9 668.5,437.9 672.5,433.4 677.5,429.3 681.5,425.2 686.5,421.8 690.5,417.7 695.5,413.4 699.5,409.1 704.5,405.7 708.5,401.6 713.5,397.9 717.5,394.5 722.5,390.3 726.5,386.0 731.5,381.5 735.5,376.1 740.5,371.2 744.5,366.8 749.5,362.3 753.5,357.7 757.5,353.1 762.5,348.8 766.5,344.5 771.5,340.7 775.5,336.6 780.5,332.4 784.5,328.5 789.5,324.1 793.5,320.4 798.5,316.5 802.5,312.5 807.5,308.8 811.5,306.1 816.5,303.9 820.5,301.9 825.5,300.1 829.5,298.7 834.5,297.7 838.5,296.4 843.5,295.5 847.5,294.9 852.5,295.1 856.5,294.7 861.5,295.1 865.5,295.7 870.5,295.9 874.5,295.4 879.5,295.3 883.5,296.1 888.5,297.1 892.5,297.7 897.5,297.9 901.5,298.0 906.5,298.1 910.5,298.1 915.5,298.0 919.5,298.4 924.5,298.9 928.5,299.1 933.5,299.6 937.5,299.6 942.5,300.4 946.5,301.8 951.5,303.2 955.5,304.5 960.5,305.9 964.5,307.4 969.5,308.1 973.5,307.9 978.5,308.2 982.5,308.4 987.5,308.9 991.5,308.9 996.5,308.5 1000.5,308.1 1005.5,307.8 1009.5,307.7 1014.5,307.7 1018.5,307.6 1023.5,307.4 1027.5,307.1 1032.5,306.5 1036.5,305.5 1041.5,303.6 1045.5,301.6 1050.5,298.7 1054.5,295.2 1059.5,291.7 1063.5,288.9 1068.5,286.0 1072.5,283.3 1077.5,280.5 1081.5,278.3 1086.5,275.3 1090.5,272.8 1095.5,270.0 1099.5,267.6 1104.5,264.8 1108.5,260.9 1113.5,257.2 1117.5,253.3 1122.5,250.0 1126.5,246.6 1131.5,243.5 1135.5,240.6 1140.5,237.8 1144.5,234.3 1149.5,231.7 1153.5,228.5 1158.5,224.8 1162.5,220.6 1167.5,216.2 1171.5,212.0 1176.5,207.8 1180.5,204.1 1185.5,200.5 1189.5,197.3 1194.5,194.9 1198.5,193.4 1203.5,191.5 1207.5,189.1 1212.5,186.7 1216.5,184.1 1221.5,181.6 1225.5,179.5 1230.5,177.3 1234.5,175.4 1239.5,173.6 1243.5,171.4 1248.5,169.8 1252.5,168.7 1257.5,167.8 1261.5,167.4 1266.5,166.8 1270.5,165.9 1275.5,165.6 1279.5,165.6 1284.5,165.7 1288.5,165.7 1293.5,165.6 1297.5,165.6 1302.5,166.1 1306.5,166.0 1311.5,166.2 1315.5,165.9 1320.5,165.8 1324.5,165.7 1329.5,165.9 1333.5,167.3 1338.5,168.8 1342.5,169.9 1347.5,170.6 1351.5,172.2 1356.5,174.2 1360.5,177.0 1365.5,179.5 1369.5,182.2 1374.5,183.9 1378.5,186.3 1383.5,189.0"/>
<line x1="1203.5" y1="204.2" x2="1369.5" y2="297.9" stroke="#999" stroke-width="1.1"/>
<line x1="1369" y1="400" x2="1374.5" y2="394.3" stroke="#999" stroke-width="1.1"/>
<rect x="272" y="0" width="2" height="1" fill="#222"/><rect x="317" y="0" width="1.5" height="1" fill="#222"/>
<g shape-rendering="crispEdges" fill="#4a4e5c">
<rect x="4" y="7" width="1615" height="1"/><rect x="4" y="826" width="1615" height="1"/>
<rect x="4" y="7" width="1" height="820"/><rect x="1618" y="7" width="1" height="820"/>
<rect x="1556" y="7" width="1" height="820"/><rect x="4" y="798" width="1553" height="1"/>
<rect x="1557" y="39" width="4" height="1"/>
<rect x="1557" y="76" width="4" height="1"/>
<rect x="1557" y="112" width="4" height="1"/>
<rect x="1557" y="149" width="4" height="1"/>
<rect x="1557" y="186" width="4" height="1"/>
<rect x="1557" y="222" width="4" height="1"/>
<rect x="1557" y="259" width="4" height="1"/>
<rect x="1557" y="296" width="4" height="1"/>
<rect x="1557" y="332" width="4" height="1"/>
<rect x="1557" y="369" width="4" height="1"/>
<rect x="1557" y="406" width="4" height="1"/>
<rect x="1557" y="442" width="4" height="1"/>
<rect x="1557" y="479" width="4" height="1"/>
<rect x="1557" y="516" width="4" height="1"/>
<rect x="1557" y="552" width="4" height="1"/>
<rect x="1557" y="589" width="4" height="1"/>
<rect x="1557" y="625" width="4" height="1"/>
<rect x="1557" y="662" width="4" height="1"/>
<rect x="1557" y="699" width="4" height="1"/>
<rect x="1557" y="735" width="4" height="1"/>
<rect x="1557" y="772" width="4" height="1"/>
<rect x="65" y="799" width="1" height="4"/>
<rect x="155" y="799" width="1" height="4"/>
<rect x="254" y="799" width="1" height="4"/>
<rect x="353" y="799" width="1" height="4"/>
<rect x="447" y="799" width="1" height="4"/>
<rect x="546" y="799" width="1" height="4"/>
<rect x="650" y="799" width="1" height="4"/>
<rect x="744" y="799" width="1" height="4"/>
<rect x="847" y="799" width="1" height="4"/>
<rect x="955" y="799" width="1" height="4"/>
<rect x="1050" y="799" width="1" height="4"/>
<rect x="1153" y="799" width="1" height="4"/>
<rect x="1248" y="799" width="1" height="4"/>
<rect x="1338" y="799" width="1" height="4"/>
<rect x="1459" y="799" width="1" height="4"/>
</g>
<g font-size="11" fill="#50535e">
<text x="1566.3" y="43" textLength="38" lengthAdjust="spacingAndGlyphs">1.25000</text>
<text x="1566.3" y="80" textLength="38" lengthAdjust="spacingAndGlyphs">1.24000</text>
<text x="1566.3" y="116" textLength="38" lengthAdjust="spacingAndGlyphs">1.23000</text>
<text x="1566.3" y="153" textLength="38" lengthAdjust="spacingAndGlyphs">1.22000</text>
<text x="1566.3" y="190" textLength="38" lengthAdjust="spacingAndGlyphs">1.21000</text>
<text x="1566.3" y="226" textLength="38" lengthAdjust="spacingAndGlyphs">1.20000</text>
<text x="1566.3" y="263" textLength="38" lengthAdjust="spacingAndGlyphs">1.19000</text>
<text x="1566.3" y="300" textLength="38" lengthAdjust="spacingAndGlyphs">1.18000</text>
<text x="1566.3" y="336" textLength="38" lengthAdjust="spacingAndGlyphs">1.17000</text>
<text x="1566.3" y="373" textLength="38" lengthAdjust="spacingAndGlyphs">1.16000</text>
<text x="1566.3" y="410" textLength="38" lengthAdjust="spacingAndGlyphs">1.15000</text>
<text x="1566.3" y="446" textLength="38" lengthAdjust="spacingAndGlyphs">1.14000</text>
<text x="1566.3" y="483" textLength="38" lengthAdjust="spacingAndGlyphs">1.13000</text>
<text x="1566.3" y="520" textLength="38" lengthAdjust="spacingAndGlyphs">1.12000</text>
<text x="1566.3" y="556" textLength="38" lengthAdjust="spacingAndGlyphs">1.11000</text>
<text x="1566.3" y="593" textLength="38" lengthAdjust="spacingAndGlyphs">1.10000</text>
<text x="1566.3" y="629" textLength="38" lengthAdjust="spacingAndGlyphs">1.09000</text>
<text x="1566.3" y="666" textLength="38" lengthAdjust="spacingAndGlyphs">1.08000</text>
<text x="1566.3" y="703" textLength="38" lengthAdjust="spacingAndGlyphs">1.07000</text>
<text x="1566.3" y="739" textLength="38" lengthAdjust="spacingAndGlyphs">1.06000</text>
<text x="1566.3" y="776" textLength="38" lengthAdjust="spacingAndGlyphs">1.05000</text>
<text x="56.6" y="815" textLength="17.7" lengthAdjust="spacingAndGlyphs">Feb</text>
<text x="146.5" y="815" textLength="18.0" lengthAdjust="spacingAndGlyphs">Mar</text>
<text x="246.2" y="815" textLength="16.6" lengthAdjust="spacingAndGlyphs">Apr</text>
<text x="343.9" y="815" textLength="19.2" lengthAdjust="spacingAndGlyphs">May</text>
<text x="438.9" y="815" textLength="17.2" lengthAdjust="spacingAndGlyphs">Jun</text>
<text x="539.2" y="815" textLength="14.5" lengthAdjust="spacingAndGlyphs">Jul</text>
<text x="641.5" y="815" textLength="18.0" lengthAdjust="spacingAndGlyphs">Aug</text>
<text x="735.8" y="815" textLength="17.4" lengthAdjust="spacingAndGlyphs">Sep</text>
<text x="838.9" y="815" textLength="17.2" lengthAdjust="spacingAndGlyphs">Oct</text>
<text x="946.4" y="815" textLength="18.3" lengthAdjust="spacingAndGlyphs">Nov</text>
<text x="1041.4" y="815" textLength="18.2" lengthAdjust="spacingAndGlyphs">Dec</text>
<text x="1141.2" y="815" font-weight="bold" fill="#40434e" textLength="24.6" lengthAdjust="spacingAndGlyphs">2021</text>
<text x="1239.7" y="815" textLength="17.7" lengthAdjust="spacingAndGlyphs">Feb</text>
<text x="1329.5" y="815" textLength="18.0" lengthAdjust="spacingAndGlyphs">Mar</text>
<text x="1451.2" y="815" textLength="16.6" lengthAdjust="spacingAndGlyphs">Apr</text>
</g>
<rect x="1573.5" y="14.5" width="27.5" height="16" rx="4" fill="#fff" stroke="#d5d8e0"/>
<text x="1587.5" y="26" font-size="11" text-anchor="middle" fill="#50535e" textLength="19" lengthAdjust="spacingAndGlyphs">USD</text>
<path d="M1556 173 h52 a2 2 0 0 1 2 2 v13 a2 2 0 0 1 -2 2 h-52 z" fill="#00ff00"/>
<rect x="1556" y="181" width="5" height="1" fill="#000" shape-rendering="crispEdges"/>
<text x="1566.3" y="186" font-size="11" font-weight="bold" fill="#000" textLength="38" lengthAdjust="spacingAndGlyphs">1.21135</text>
<path d="M1556 227 h52 a2 2 0 0 1 2 2 v13 a2 2 0 0 1 -2 2 h-52 z" fill="#4caf50"/>
<rect x="1556" y="235" width="5" height="1" fill="#fff" shape-rendering="crispEdges"/>
<text x="1566.3" y="240" font-size="11" font-weight="bold" fill="#fff" textLength="38" lengthAdjust="spacingAndGlyphs">1.19514</text>
<path d="M1556 244 h56 a2 2 0 0 1 2 2 v25 a2 2 0 0 1 -2 2 h-56 z" fill="#000"/>
<rect x="1556" y="251" width="5" height="1" fill="#fff" shape-rendering="crispEdges"/>
<text x="1566.3" y="256" font-size="11" font-weight="bold" fill="#fff" textLength="38" lengthAdjust="spacingAndGlyphs">1.19228</text>
<text x="1566.3" y="269" font-size="11" font-weight="bold" fill="#c9c9c9" textLength="42" lengthAdjust="spacingAndGlyphs">13:13:14</text>
<path d="M1556 274 h52 a2 2 0 0 1 2 2 v13 a2 2 0 0 1 -2 2 h-52 z" fill="#2196f3"/>
<rect x="1556" y="282" width="5" height="1" fill="#fff" shape-rendering="crispEdges"/>
<text x="1566.3" y="287" font-size="11" font-weight="bold" fill="#fff" textLength="38" lengthAdjust="spacingAndGlyphs">1.18372</text>
<path d="M1556 290 h52 a2 2 0 0 1 2 2 v13 a2 2 0 0 1 -2 2 h-52 z" fill="#2196f3"/>
<rect x="1556" y="298" width="5" height="1" fill="#fff" shape-rendering="crispEdges"/>
<text x="1566.3" y="303" font-size="11" font-weight="bold" fill="#fff" textLength="38" lengthAdjust="spacingAndGlyphs">1.18030</text>
<path d="M1556 357 h52 a2 2 0 0 1 2 2 v13 a2 2 0 0 1 -2 2 h-52 z" fill="#2196f3"/>
<rect x="1556" y="365" width="5" height="1" fill="#fff" shape-rendering="crispEdges"/>
<text x="1566.3" y="370" font-size="11" font-weight="bold" fill="#fff" textLength="38" lengthAdjust="spacingAndGlyphs">1.16108</text>
<g font-size="13" fill="#4a4e5c">
<text x="13.5" y="29" font-weight="bold" textLength="128" lengthAdjust="spacingAndGlyphs">Euro / U.S. Dollar, 1D,</text>
<text x="13.5" y="46" textLength="93" lengthAdjust="spacingAndGlyphs">MA (50, close, 0)</text>
<text x="13.5" y="63" textLength="93" lengthAdjust="spacingAndGlyphs">MA (20, close, 0)</text>
<text x="13.5" y="80" textLength="100" lengthAdjust="spacingAndGlyphs">MA (200, close, 0)</text>
</g>
<rect x="18" y="104" width="299" height="71" fill="#18222c"/>
<text x="35.5" y="155" font-size="45" fill="#fff" stroke="#fff" stroke-width="0.4" stroke-linejoin="round" textLength="106" lengthAdjust="spacing">CITY</text>
<text x="157" y="155" font-size="45" fill="#fff200" stroke="#fff200" stroke-width="0.4" stroke-linejoin="round" textLength="145.5" lengthAdjust="spacing">INDEX</text>
<g id="icons">
<circle cx="1395.2" cy="759.5" r="11.8" fill="#fff" stroke="#f7931a" stroke-width="1.3"/><circle cx="1395.2" cy="759.5" r="10" fill="#ef5070"/>
<circle cx="1391.3" cy="759.5" r="11.8" fill="#fff" stroke="#f7931a" stroke-width="1.3"/><circle cx="1391.3" cy="759.5" r="10" fill="#3f51b5"/>
<circle cx="1387.4" cy="759.5" r="11.8" fill="#fff" stroke="#f7931a" stroke-width="1.3"/><circle cx="1387.4" cy="759.5" r="10" fill="#3f51b5"/>
<circle cx="1383.5" cy="759.5" r="11.8" fill="#fff" stroke="#f7931a" stroke-width="1.3"/><circle cx="1383.5" cy="759.5" r="10" fill="#3f51b5"/>
<circle cx="1389.5" cy="759.5" r="0.9" fill="#ffd54f"/>
<circle cx="1388.7" cy="762.5" r="0.9" fill="#ffd54f"/>
<circle cx="1386.5" cy="764.7" r="0.9" fill="#ffd54f"/>
<circle cx="1383.5" cy="765.5" r="0.9" fill="#ffd54f"/>
<circle cx="1380.5" cy="764.7" r="0.9" fill="#ffd54f"/>
<circle cx="1378.3" cy="762.5" r="0.9" fill="#ffd54f"/>
<circle cx="1377.5" cy="759.5" r="0.9" fill="#ffd54f"/>
<circle cx="1378.3" cy="756.5" r="0.9" fill="#ffd54f"/>
<circle cx="1380.5" cy="754.3" r="0.9" fill="#ffd54f"/>
<circle cx="1383.5" cy="753.5" r="0.9" fill="#ffd54f"/>
<circle cx="1386.5" cy="754.3" r="0.9" fill="#ffd54f"/>
<circle cx="1388.7" cy="756.5" r="0.9" fill="#ffd54f"/>
<rect x="1385" y="746.5" width="24" height="11.5" rx="5.5" fill="#fff"/>
<text x="1388.8" y="755.8" font-size="10.5" fill="#131722">5</text>
<circle cx="1404.5" cy="784.0" r="11.8" fill="#fff" stroke="#f7931a" stroke-width="1.3"/><circle cx="1404.5" cy="784.0" r="10" fill="#3f51b5"/>
<circle cx="1400.3" cy="784.0" r="11.8" fill="#fff" stroke="#f7931a" stroke-width="1.3"/><circle cx="1400.3" cy="784.0" r="10" fill="#3f51b5"/>
<circle cx="1396.1" cy="784.0" r="11.8" fill="#fff" stroke="#f7931a" stroke-width="1.3"/><circle cx="1396.1" cy="784.0" r="10" fill="#ef5070"/>
<circle cx="1391.9" cy="784.0" r="11.8" fill="#fff" stroke="#f7931a" stroke-width="1.3"/><circle cx="1391.9" cy="784.0" r="10" fill="#ef5070"/>
<circle cx="1387.7" cy="784.0" r="11.8" fill="#fff" stroke="#f7931a" stroke-width="1.3"/><circle cx="1387.7" cy="784.0" r="10" fill="#ef5070"/>
<circle cx="1383.5" cy="784" r="11.8" fill="#fff" stroke="#f7931a" stroke-width="1.3"/>
<clipPath id="us"><circle cx="1383.5" cy="784" r="10"/></clipPath>
<g clip-path="url(#us)"><rect x="1372" y="773" width="24" height="22" fill="#ef5070"/><rect x="1372" y="786.3" width="24" height="2.6" fill="#fff"/><rect x="1372" y="791.8" width="24" height="2.2" fill="#fff"/><rect x="1372" y="773" width="12" height="11" fill="#4a90e2"/>
<rect x="1376.5" y="776.5" width="1.2" height="1.2" fill="#fff"/>
<rect x="1379.5" y="776.5" width="1.2" height="1.2" fill="#fff"/>
<rect x="1382.5" y="776.5" width="1.2" height="1.2" fill="#fff"/>
<rect x="1376.5" y="779.5" width="1.2" height="1.2" fill="#fff"/>
<rect x="1379.5" y="779.5" width="1.2" height="1.2" fill="#fff"/>
<rect x="1382.5" y="779.5" width="1.2" height="1.2" fill="#fff"/>
<rect x="1376.5" y="782.5" width="1.2" height="1.2" fill="#fff"/>
<rect x="1379.5" y="782.5" width="1.2" height="1.2" fill="#fff"/>
<rect x="1382.5" y="782.5" width="1.2" height="1.2" fill="#fff"/>
</g>
<rect x="1385" y="770" width="32.5" height="11.5" rx="5.5" fill="#fff"/>
<text x="1388.8" y="779.8" font-size="10.5" fill="#131722" textLength="21.5" lengthAdjust="spacingAndGlyphs">9 333</text>
</g>
<g fill="#2196f3"><circle cx="14.8" cy="842.9" r="6"/><circle cx="8" cy="846.6" r="4.1"/><circle cx="23.6" cy="844.4" r="3.6"/><circle cx="26.4" cy="848.2" r="3.8"/><rect x="6.5" y="845" width="21" height="7" rx="2"/></g>
<polyline points="4.8,850 13.7,842.9 20,848.3 26.5,841.6" fill="none" stroke="#fff" stroke-width="1"/><circle cx="13.7" cy="842.9" r="2" fill="#fff"/><circle cx="20" cy="848.3" r="2" fill="#fff"/>
<text x="32" y="849" font-size="13" fill="#131722" textLength="71" lengthAdjust="spacingAndGlyphs">TradingView</text>
</svg></body></html>
